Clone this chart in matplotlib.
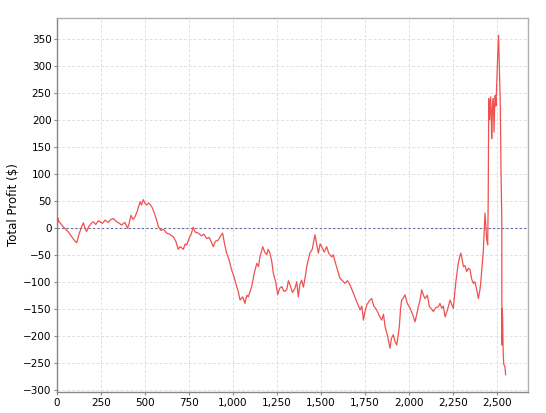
import matplotlib
matplotlib.use('Agg')
import matplotlib.pyplot as plt
from matplotlib.ticker import FuncFormatter, MultipleLocator

# trade number vs cumulative profit
trade = [0, 5, 10, 20, 35, 50, 65, 80, 95, 112, 125, 140, 150, 160, 168, 180,
         195, 206, 220, 235, 244, 258, 273, 290, 305, 320, 335, 350, 367, 385,
         401, 410, 420, 432, 443, 455, 472, 480, 490, 500, 510, 522, 538, 550,
         565, 576, 590, 605, 623, 640, 661, 675, 689, 700, 718, 728, 737, 750,
         762, 774, 785, 803, 820, 835, 850, 865, 888, 900, 916, 930, 941, 952,
         964, 978, 992, 1005, 1021, 1030, 1040, 1055, 1068, 1078, 1087, 1097,
         1106, 1120, 1135, 1145, 1153, 1161, 1169, 1180, 1191, 1200, 1210, 1220,
         1229, 1242, 1254, 1265, 1277, 1290, 1305, 1315, 1324, 1338, 1352, 1362,
         1371, 1380, 1390, 1400, 1409, 1420, 1437, 1450, 1466, 1475, 1485, 1495,
         1504, 1518, 1532, 1545, 1561, 1570, 1580, 1595, 1608, 1622, 1636, 1650,
         1665, 1680, 1693, 1708, 1722, 1732, 1741, 1750, 1760, 1775, 1788, 1800,
         1816, 1830, 1845, 1855, 1864, 1878, 1892, 1900, 1911, 1920, 1930, 1938,
         1945, 1952, 1958, 1968, 1977, 1990, 2006, 2020, 2034, 2044, 2053, 2062,
         2072, 2082, 2091, 2104, 2116, 2127, 2138, 2152, 2167, 2176, 2186, 2195,
         2205, 2220, 2233, 2243, 2252, 2260, 2265, 2272, 2280, 2287, 2294, 2300,
         2309, 2318, 2328, 2338, 2347, 2356, 2366, 2374, 2381, 2388, 2394, 2403,
         2408, 2413, 2418, 2422, 2427, 2432, 2437, 2441, 2447, 2450, 2453, 2458,
         2464, 2467, 2470, 2474, 2479, 2483, 2487, 2490, 2494, 2498, 2501, 2504,
         2507, 2509, 2511, 2513, 2516, 2519, 2521, 2523, 2525, 2527, 2528, 2530,
         2532, 2535, 2538, 2541, 2545, 2547, 2549]
profit = [-10, 18, 12, 8, 2, -3, -8, -15, -22, -28, -12, 2, 9, -2, -7, 2,
          8, 11, 6, 13, 11, 8, 14, 10, 15, 17, 12, 9, 5, 10,
          -1, 8, 23, 15, 20, 30, 48, 42, 52, 45, 42, 46, 39, 30,
          15, 2, -5, -3, -10, -12, -17, -25, -40, -35, -40, -30, -32, -20,
          -12, 1, -8, -10, -15, -12, -20, -18, -35, -25, -23, -15, -10, -30,
          -47, -60, -78, -90, -109, -118, -134, -128, -140, -125, -128, -118,
          -109, -85, -66, -72, -54, -45, -35, -45, -50, -40, -47, -62,
          -84, -100, -124, -112, -109, -118, -115, -98, -106, -120, -112, -100,
          -128, -105, -97, -110, -94, -70, -47, -40, -13, -30, -47, -30,
          -35, -45, -35, -48, -54, -50, -63, -80, -94, -98, -103, -98,
          -106, -118, -128, -140, -152, -145, -171, -155, -143, -135, -131, -145,
          -152, -162, -171, -160, -183, -200, -223, -205, -198, -210, -217, -200,
          -183, -150, -134, -130, -124, -140, -149, -160, -174, -160, -146, -135,
          -115, -125, -131, -125, -146, -150, -155, -148, -146, -140, -149, -145,
          -165, -150, -134, -142, -149, -120, -103, -85, -66, -55, -47, -55,
          -72, -70, -81, -75, -78, -95, -103, -100, -109, -120, -131, -115,
          -100, -81, -60, -44, -10, 27, 0, -20, -32, 50, 239, 200,
          242, 210, 165, 220, 239, 177, 230, 245, 225, 264, 290, 319,
          340, 356, 330, 307, 260, 221, 160, 97, 60, 20, -217, -150,
          -167, -230, -251, -255, -257, -265, -272]

y_ticks = [-300, -250, -200, -150, -100, -50, 0, 50, 100, 150, 200, 250, 300, 350]

plt.rcParams['font.family'] = 'DejaVu Sans'
fig = plt.figure(figsize=(5.46, 4.13), dpi=100)
ax = fig.add_axes([0.1044, 0.0508, 0.8626, 0.9056])

ax.plot(trade, profit, '-', color='#f05050', linewidth=0.9, zorder=3)
ax.axhline(0, color='#6a6aa0', linewidth=0.8, linestyle=(0, (2, 2)), zorder=2)

ax.set_xlim(0, 2676)
ax.set_ylim(-304, 388)
ax.xaxis.set_major_locator(MultipleLocator(250))
ax.set_yticks(y_ticks)
ax.xaxis.set_major_formatter(FuncFormatter(lambda v, p: '{:,}'.format(int(v))))

ax.grid(True, color='#e0e0e0', linestyle=(0, (3, 2)), linewidth=0.7)
ax.set_axisbelow(True)

for side in ['top', 'right']:
    ax.spines[side].set_color('#b0b0b0')
for side in ['left', 'bottom']:
    ax.spines[side].set_color('#888888')
for s in ax.spines.values():
    s.set_linewidth(1.0)

ax.tick_params(axis='both', labelsize=7.5, length=2, color='#888888', pad=2)
ax.set_ylabel('Total Profit ($)', fontsize=8.5, labelpad=2)

plt.savefig('out.png', dpi=100)
